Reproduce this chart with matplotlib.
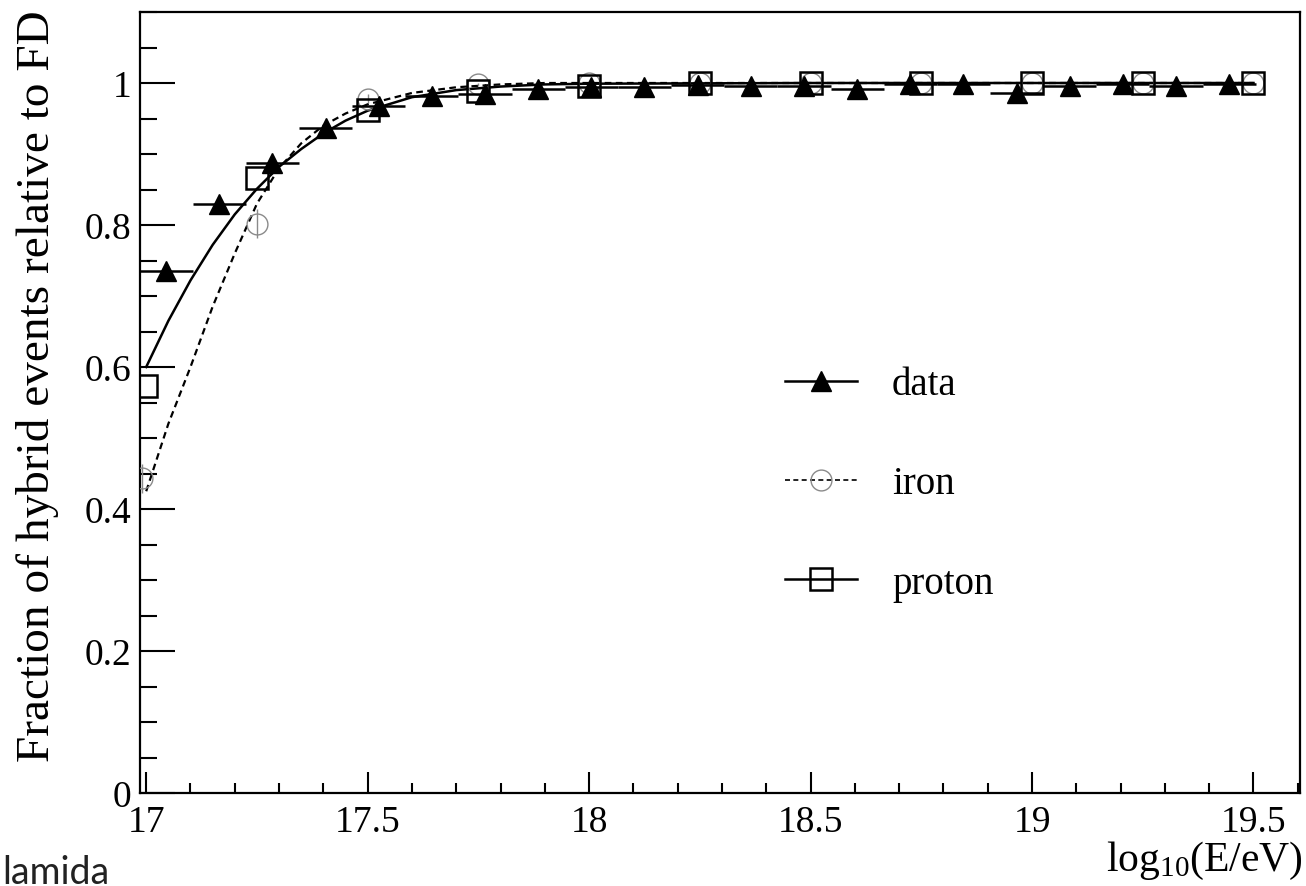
import matplotlib
matplotlib.use("Agg")
import matplotlib.pyplot as plt
from matplotlib.lines import Line2D
from matplotlib.ticker import MultipleLocator

data_x = [17.045, 17.165, 17.285, 17.405, 17.525, 17.645, 17.765, 17.885, 18.005, 18.125,
          18.245, 18.365, 18.485, 18.605, 18.725, 18.845, 18.965, 19.085, 19.205, 19.325, 19.445]
data_y = [0.735, 0.830, 0.888, 0.937, 0.968, 0.981, 0.984, 0.992, 0.995, 0.995,
          0.997, 0.996, 0.996, 0.992, 0.998, 0.998, 0.986, 0.996, 0.998, 0.996, 0.998]
data_xerr = 0.06

sim_x = [16.99, 17.25, 17.5, 17.75, 18.0, 18.25, 18.5, 18.75, 19.0, 19.25, 19.5]
iron_y = [0.443, 0.802, 0.978, 0.998, 1.0, 1.0, 1.0, 1.0, 1.0, 1.0, 1.0]
iron_yerr = [0.02, 0.02, 0.006, 0.002, 0.0, 0.0, 0.0, 0.0, 0.0, 0.0, 0.0]
proton_x = [17.0, 17.25, 17.5, 17.75, 18.0, 18.25, 18.5, 18.75, 19.0, 19.25, 19.5]
proton_y = [0.573, 0.866, 0.962, 0.989, 0.996, 1.0, 1.0, 1.0, 1.0, 1.0, 1.0]

# fit curves
fit_x = [17.0, 17.05, 17.1, 17.15, 17.2, 17.25, 17.3, 17.35, 17.4, 17.45, 17.5,
         17.6, 17.7, 17.8, 17.9, 18.0, 18.5, 19.0, 19.5]
proton_fit = [0.600, 0.665, 0.722, 0.772, 0.815, 0.851, 0.882, 0.907, 0.929, 0.947, 0.961,
              0.980, 0.990, 0.995, 0.998, 0.999, 1.0, 1.0, 1.0]
iron_fit = [0.425, 0.520, 0.600, 0.685, 0.760, 0.830, 0.880, 0.915, 0.940, 0.957, 0.970,
            0.986, 0.994, 0.998, 1.0, 1.0, 1.0, 1.0, 1.0]

plt.rcParams["font.family"] = ["Liberation Serif", "DejaVu Serif"]
plt.rcParams["mathtext.fontset"] = "custom"
plt.rcParams["mathtext.rm"] = "Liberation Serif"
plt.rcParams["mathtext.it"] = "Liberation Serif"

fig = plt.figure(figsize=(13.06, 8.87), dpi=100)
ax = fig.add_axes([140 / 1306, 1 - 794 / 887, 1160 / 1306, 781 / 887])

ax.plot(fit_x, proton_fit, color="black", lw=1.8, zorder=2)
ax.plot(fit_x, iron_fit, color="black", lw=1.6, ls=(0, (3, 2)), zorder=2)

ax.errorbar(sim_x, iron_y, yerr=iron_yerr, fmt="o", ms=15, mfc="none",
            mec="#8a8a8a", mew=1.0, ecolor="#8a8a8a", elinewidth=1.0, zorder=3)
ax.errorbar(proton_x, proton_y, fmt="s", ms=16, mfc="none", mec="black",
            mew=1.8, zorder=4)
ax.errorbar(data_x, data_y, xerr=data_xerr, fmt="^", ms=15, color="black",
            elinewidth=1.8, capsize=0, zorder=5)

ax.set_xlim(16.986, 19.605)
ax.set_ylim(0, 1.1)
ax.set_xticks([17, 17.5, 18, 18.5, 19, 19.5])
ax.set_xticklabels(["17", "17.5", "18", "18.5", "19", "19.5"])
ax.set_yticks([0, 0.2, 0.4, 0.6, 0.8, 1.0])
ax.set_yticklabels(["0", "0.2", "0.4", "0.6", "0.8", "1"])
ax.xaxis.set_minor_locator(MultipleLocator(0.1))
ax.yaxis.set_minor_locator(MultipleLocator(0.05))

ax.tick_params(axis="both", which="both", direction="in", top=False, right=False,
               width=1.5, labelsize=27)
ax.tick_params(axis="x", which="major", length=15, pad=8)
ax.tick_params(axis="x", which="minor", length=7.5)
ax.tick_params(axis="y", which="major", length=25, pad=6)
ax.tick_params(axis="y", which="minor", length=12.5)
for s in ax.spines.values():
    s.set_linewidth(1.6)

fig.text(38 / 1306, 1 - 10 / 887, "Fraction of hybrid events relative to FD",
         rotation=90, ha="center", va="top", fontsize=34)
fig.text(1303 / 1306, 1 - 861 / 887, r"log$_{10}$(E/eV)", ha="right", va="center",
         fontsize=30)

handles = [
    Line2D([], [], color="black", lw=1.8, marker="^", ms=15),
    Line2D([], [], color="black", lw=1.2, ls=(0, (3, 2)), marker="o", ms=15,
           mfc="none", mec="#8a8a8a", mew=1.0),
    Line2D([], [], color="black", lw=1.8, marker="s", ms=16, mfc="none", mew=1.8),
]
ax.legend(handles, ["data", "iron", "proton"], loc="center left",
          bbox_to_anchor=((785 - 140) / 1160, (794 - 485) / 781), frameon=False,
          borderpad=0, borderaxespad=0, handlelength=1.85, handletextpad=0.9,
          labelspacing=1.6, fontsize=28)

fig.text(0.002, 3 / 887, "lamida", ha="left", va="baseline", fontsize=27,
         family="Lato", color="#222222")

fig.savefig("out.png", dpi=100)
